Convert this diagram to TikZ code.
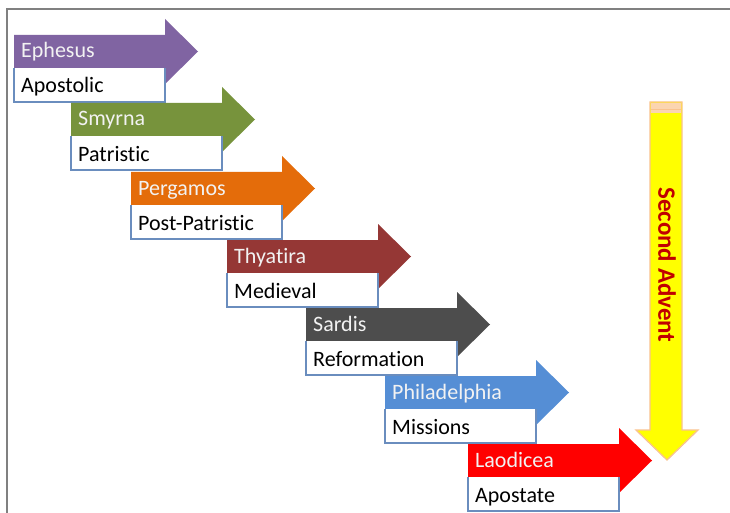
\documentclass[tikz,border=0pt]{standalone}
\usepackage{fontspec}
\setmainfont[Ligatures=NoCommon]{Carlito}
\definecolor{cpurple}{HTML}{8064A2}
\definecolor{cgreen}{HTML}{77933C}
\definecolor{corange}{HTML}{E46C0A}
\definecolor{cbrown}{HTML}{953735}
\definecolor{cgray}{HTML}{4D4D4D}
\definecolor{cblue}{HTML}{558ED5}
\definecolor{cred}{HTML}{FF0000}
\definecolor{boxline}{HTML}{6A8DBE}
\definecolor{frameline}{HTML}{808080}
\definecolor{advfill}{HTML}{FFFF00}
\definecolor{advline}{HTML}{F9C38E}
\definecolor{advtext}{HTML}{C00000}
\tikzset{
  churchname/.style={anchor=base west, text=white!95!black, font=\fontsize{22}{24}\selectfont, inner sep=0pt},
  erabox/.style={draw=boxline, line width=1.2pt},
  eraname/.style={anchor=base west, text=black, font=\fontsize{22}{24}\selectfont, inner sep=0pt},
}
% #1 x-left, #2 y-top, #3 colour, #4 node name, #5 church, #6 era
\newcommand{\chstep}[6]{%
  \fill[#3] (#1,#2) -- ++(151,0) -- ++(0,-16) -- (#1+184,#2+16.5) -- (#1+151,#2+49) -- ++(0,-16) -- (#1,#2+33) -- cycle;
  \fill[white] (#1,#2+33) rectangle (#1+151,#2+67);
  \draw[erabox] (#1,#2+33) -- (#1,#2+67) -- (#1+151,#2+67) -- (#1+151,#2+33);
  \node[churchname] (#4a) at (#1+7,#2+23) {#5};
  \node[eraname] (#4b) at (#1+7,#2+58) {#6};
}
\begin{document}
\begin{tikzpicture}[x=1pt,y=-1pt]
\useasboundingbox (0,0) rectangle (730,513);
\fill[white] (0,0) rectangle (730,513);
\draw[frameline, line width=2pt] (7,513) -- (7,9) -- (730,9);
\chstep{14}{35}{cpurple}{eph}{Ephesus}{Apostolic}
\chstep{71}{103}{cgreen}{smy}{Smyrna}{Patristic}
\chstep{131}{172}{corange}{per}{Pergamos}{Post-Patristic}
\chstep{227}{240}{cbrown}{thy}{Thyatira}{Medieval}
\chstep{306}{308}{cgray}{sar}{Sardis}{Reformation}
\chstep{385}{376}{cblue}{phi}{Philadelphia}{Missions}
\chstep{468}{444}{cred}{lao}{Laodicea}{Apostate}
% Second Advent arrow
\draw[advline, fill=advfill, line width=1.3pt, line join=miter]
  (650,102) -- (682,102) -- (682,430) -- (698,430) -- (667,460) -- (636,430) -- (650,430) -- cycle;
\fill[advline!70!white] (650.6,102.6) rectangle (681.4,113);
\draw[advline, line width=1pt] (650.6,110) -- (681.4,110);
\node[rotate=-90, text=advtext, font=\bfseries\fontsize{25}{28}\selectfont, inner sep=0pt] (adv) at (667,265) {Second Advent};
\end{tikzpicture}
\end{document}
